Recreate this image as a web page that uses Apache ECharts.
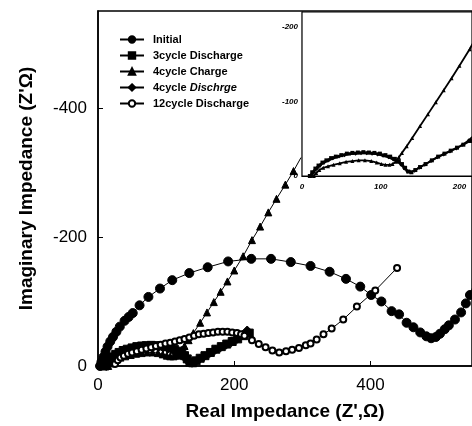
<!DOCTYPE html>
<html>
<head>
<meta charset="utf-8">
<script src="https://cdn.jsdelivr.net/npm/echarts@6/dist/echarts.min.js"></script>
<style>
    html, body { margin: 0; padding: 0; background: #fff; }
    #chart { width: 472px; height: 426px; }
</style>
</head>
<body>
<div id="chart"></div>
<script>
    // [Z', -Z''] pairs (ohm)
    var initial = [
        [3,0],[5,6],[8,14],[11,22],[14,30],[18,38],[22,45],[27,53],[32,61],[39,70],
        [45,76],[51,82],[61,94],[74,107],[91,120],[109,133],[134,144],[161,153],[191,162],[225,166],
        [254,166],[283,161],[312,155],[340,146],[364,135],[385,123],[401,110],[416,100],[431,85],[442,80],
        [453,67],[463,60],[473,52],[482,46],[489,43],[496,45],[502,50],[509,57],[515,63],[524,72],
        [533,83],[540,97],[546,110],[552,128]
    ];
    var cycle3Discharge = [
        [10,0],[13,5],[17,10],[21,14],[26,18],[31,21],[37,24],[43,26],[50,28],[57,30],
        [64,31],[71,31.5],[78,32],[85,31.5],[92,31],[99,30],[106,28],[112,26],[118,23],[123,20],
        [127,16],[131,11],[135,6],[139,5],[144,8],[150,12],[157,16],[165,21],[173,26],[181,30],
        [189,34],[197,38],[205,42],[214,47],[222,51]
    ];
    var cycle4Charge = [
        [15,0],[18,4],[22,8],[27,11],[33,13],[40,15],[48,17],[56,19],[64,20],[72,21],
        [80,21],[88,20],[95,18],[101,16],[106,15],[111,15],[115,16],[119,19],[123,25],[127,31],
        [133,40],[140,51],[150,67],[160,83],[170,99],[180,115],[190,131],[200,148],[213,170],[226,195],
        [238,216],[250,238],[262,259],[275,281],[287,302],[298,323]
    ];
    var cycle4Discharge = [
        [12,0],[15,5],[19,10],[23,14],[28,18],[34,21],[40,24],[47,26],[54,28],[61,29.5],
        [68,30],[75,30.5],[82,30.5],[89,30],[96,29],[103,27],[110,25],[116,22],[121,19],[126,15],
        [130,10],[134,6],[138,5],[143,7],[149,11],[156,15],[164,20],[172,25],[180,29],[188,33],
        [196,37],[204,42],[212,48],[219,55]
    ];
    var cycle12Discharge = [
        [25,3],[29,9],[33,13],[38,16],[44,19],[50,21],[57,23],[64,25],[71,27],[78,29],
        [85,31],[92,33],[99,35],[106,36],[113,38],[120,40],[127,42],[134,44],[141,47],[148,49],
        [155,50],[162,51],[169,52],[176,53],[183,53],[190,53],[197,52],[204,51],[210,49],[215,47],
        [226,40],[236,34],[246,29],[256,24],[266,21],[276,23],[285,25],[295,28],[305,32],[312,35],
        [321,41],[331,49],[343,58],[360,72],[380,92],[407,117],[439,152]
    ];
    var mainXTicks = { min: 0, max: 549, interval: 200 };
    var mainYTicks = { min: 0, max: 550, interval: 200 };
    var insetXTicks = { min: 0, max: 216, interval: 100 };
    var insetYTicks = { min: 0, max: 220, interval: 100 };

    var FONT = '"Liberation Sans", Arial, sans-serif';
    var neg = function (v) { return v === 0 ? '0' : '-' + v; };

    var chart = echarts.init(document.getElementById('chart'));

    function mainSeries(name, data, symbol, size) {
        var last = data.length - 1;
        return {
            name: name,
            type: 'line',
            xAxisIndex: 0,
            yAxisIndex: 0,
            data: data,
            symbol: symbol,
            // the charge curve runs into the inset frame, no marker at that end
            symbolSize: name === '4cycle Charge'
                ? function (v, p) { return p.dataIndex === last ? 0 : size; }
                : size,
            lineStyle: { color: '#000', width: 1 },
            itemStyle: { color: '#000', borderColor: '#000', borderWidth: 1 },
            animation: false,
            z: 3
        };
    }

    function insetSeries(name, data, symbol) {
        return {
            name: name + ' (inset)',
            type: 'line',
            xAxisIndex: 1,
            yAxisIndex: 1,
            data: data,
            symbol: symbol,
            symbolSize: 4,
            lineStyle: { color: '#000', width: 1.8 },
            itemStyle: { color: '#000' },
            animation: false,
            z: 5
        };
    }

    chart.setOption({
        backgroundColor: '#fff',
        textStyle: { fontFamily: FONT },
        legend: {
            data: ['Initial', '3cycle Discharge', '4cycle Charge', '4cycle Dischrge', '12cycle Discharge'],
            orient: 'vertical',
            left: 114,
            top: 29,
            itemWidth: 24,
            itemHeight: 8,
            itemGap: 5,
            selectedMode: false,
            formatter: function (name) {
                return name === '4cycle Dischrge' ? '4cycle {i|Dischrge}' : name;
            },
            textStyle: {
                fontFamily: FONT,
                fontSize: 11,
                fontWeight: 'bold',
                color: '#000',
                padding: [0, 0, 0, 4],
                rich: { i: { fontFamily: FONT, fontSize: 11, fontWeight: 'bold', fontStyle: 'italic', color: '#000' } }
            }
        },
        grid: [
            { left: 98, top: 11, right: -2, bottom: 57, show: true, borderColor: '#000', borderWidth: 1.5, backgroundColor: 'transparent' },
            { left: 302, top: 12, right: -2, bottom: 250, show: true, borderColor: '#000', borderWidth: 1.2, backgroundColor: '#fff', z: 4 }
        ],
        xAxis: [
            {
                gridIndex: 0, type: 'value',
                min: mainXTicks.min, max: mainXTicks.max, interval: mainXTicks.interval,
                name: "Real Impedance (Z',\u03A9)",
                nameLocation: 'middle', nameGap: 36,
                nameTextStyle: { fontFamily: FONT, fontSize: 19, fontWeight: 'bold', color: '#000' },
                axisLine: { lineStyle: { color: '#000', width: 1.5 } },
                axisTick: { inside: true, length: 5, lineStyle: { color: '#000' } },
                axisLabel: { color: '#000', fontSize: 17, margin: 11, showMaxLabel: false, fontFamily: FONT },
                splitLine: { show: false }
            },
            {
                gridIndex: 1, type: 'value',
                min: insetXTicks.min, max: insetXTicks.max, interval: insetXTicks.interval,
                axisLine: { lineStyle: { color: '#000', width: 1.2 } },
                axisTick: { inside: true, length: 3, lineStyle: { color: '#000' } },
                axisLabel: { color: '#000', fontSize: 8, fontStyle: 'italic', fontWeight: 'bold', margin: 7, showMaxLabel: false, fontFamily: FONT },
                splitLine: { show: false }
            }
        ],
        yAxis: [
            {
                gridIndex: 0, type: 'value',
                min: mainYTicks.min, max: mainYTicks.max, interval: mainYTicks.interval,
                name: "Imaginary Impedance (Z'\u03A9)",
                nameLocation: 'middle', nameGap: 62,
                nameTextStyle: { fontFamily: FONT, fontSize: 19, fontWeight: 'bold', color: '#000' },
                axisLine: { lineStyle: { color: '#000', width: 1.5 } },
                axisTick: { inside: true, length: 5, lineStyle: { color: '#000' } },
                axisLabel: { color: '#000', fontSize: 17, margin: 11, showMaxLabel: false, formatter: neg, fontFamily: FONT },
                splitLine: { show: false }
            },
            {
                gridIndex: 1, type: 'value',
                min: insetYTicks.min, max: insetYTicks.max, interval: insetYTicks.interval,
                axisLine: { lineStyle: { color: '#000', width: 1.2 } },
                axisTick: { inside: true, length: 3, lineStyle: { color: '#000' } },
                axisLabel: { color: '#000', fontSize: 8, fontStyle: 'italic', fontWeight: 'bold', margin: 4, showMaxLabel: false, formatter: neg, fontFamily: FONT },
                splitLine: { show: false }
            }
        ],
        series: [
            mainSeries('Initial', initial, 'circle', 9),
            mainSeries('3cycle Discharge', cycle3Discharge, 'rect', 8),
            mainSeries('4cycle Charge', cycle4Charge, 'triangle', 7),
            mainSeries('4cycle Dischrge', cycle4Discharge, 'diamond', 9),
            mainSeries('12cycle Discharge', cycle12Discharge, 'emptyCircle', 6),
            insetSeries('3cycle Discharge', cycle3Discharge, 'rect'),
            insetSeries('4cycle Charge', cycle4Charge, 'triangle'),
            insetSeries('4cycle Dischrge', cycle4Discharge, 'diamond')
        ]
    });
</script>
</body>
</html>
